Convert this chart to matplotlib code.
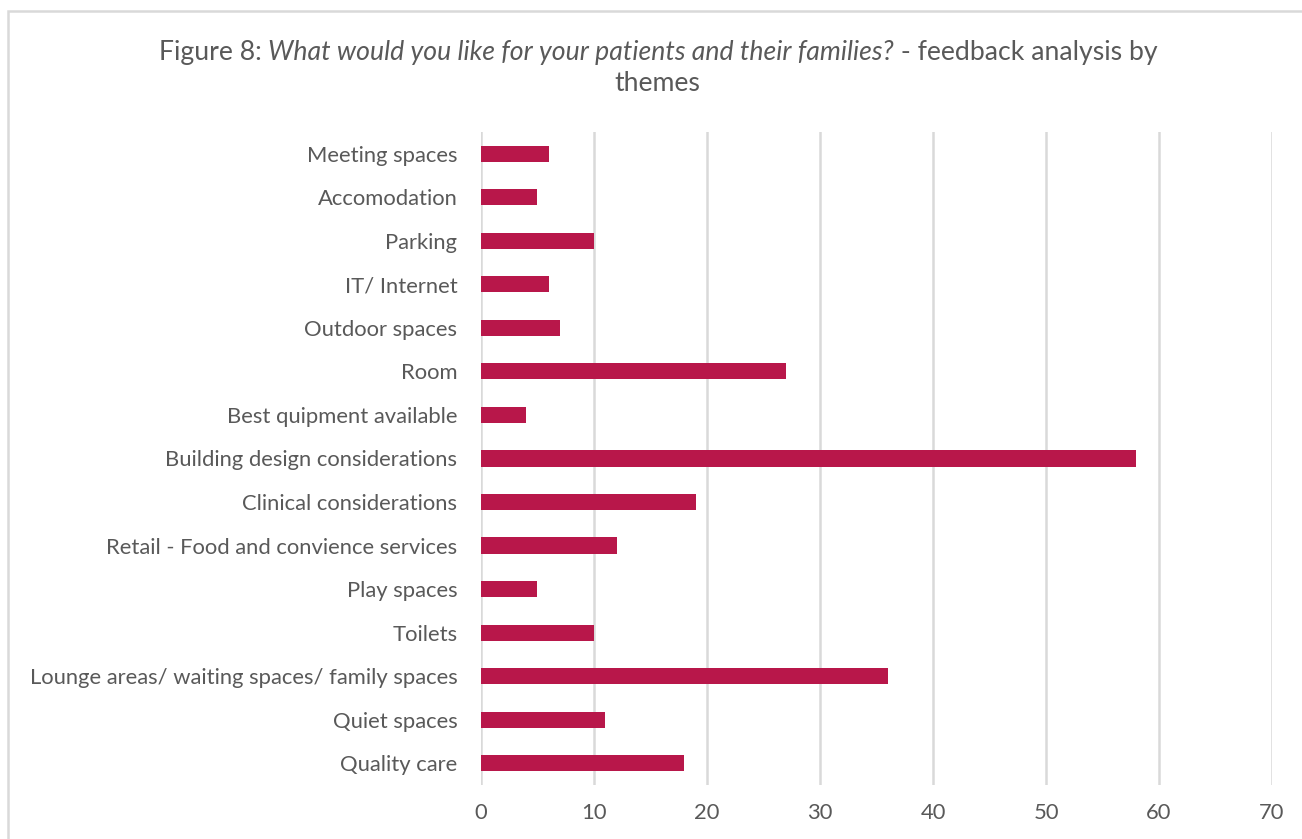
import matplotlib.pyplot as plt
from matplotlib.patches import Rectangle

categories = [
    "Meeting spaces",
    "Accomodation",
    "Parking",
    "IT/ Internet",
    "Outdoor spaces",
    "Room",
    "Best quipment available",
    "Building design considerations",
    "Clinical considerations",
    "Retail - Food and convience services",
    "Play spaces",
    "Toilets",
    "Lounge areas/ waiting spaces/ family spaces",
    "Quiet spaces",
    "Quality care",
]
counts = [6, 5, 10, 6, 7, 27, 4, 58, 19, 12, 5, 10, 36, 11, 18]
xticks = [0, 10, 20, 30, 40, 50, 60, 70]

bar_color = "#B8174A"
text_color = "#595959"
grid_color = "#D9D9D9"

plt.rcParams["font.family"] = ["Lato", "DejaVu Sans"]

fig = plt.figure(figsize=(13.02, 8.39), dpi=100)
ax = fig.add_axes([0.3694, 0.0644, 0.6076, 0.7783])

ypos = list(range(len(categories)))
ax.barh(ypos, counts, height=0.37, color=bar_color, zorder=3)

ax.set_ylim(len(categories) - 0.5, -0.5)
ax.set_xlim(0, 70)
ax.set_xticks(xticks)
ax.set_yticks(ypos)
ax.set_yticklabels(categories)
ax.tick_params(axis="both", length=0, labelsize=15.8, colors=text_color)
ax.tick_params(axis="x", pad=13)
ax.tick_params(axis="y", pad=17)
ax.grid(axis="x", color=grid_color, linewidth=1.8, zorder=0)
for s in ax.spines.values():
    s.set_visible(False)

title_size = 19.2
y1, y2 = 0.938, 0.9
head = fig.text(0.5, y1, "Figure 8: ", ha="left", va="center",
                fontsize=title_size, color=text_color)
italic = fig.text(0.5, y1, "What would you like for your patients and their families?",
                  ha="left", va="center", fontsize=title_size, color=text_color,
                  style="italic")
tail = fig.text(0.5, y1, " - feedback analysis by", ha="left", va="center",
                fontsize=title_size, color=text_color)
fig.text(0.505, y2, "themes", ha="center", va="center",
         fontsize=title_size, color=text_color)

# lay the three pieces of the first line end to end, centred on x=658px
fig.canvas.draw()
renderer = fig.canvas.get_renderer()
w_head = head.get_window_extent(renderer).width
w_it = italic.get_window_extent(renderer).width
w_tail = tail.get_window_extent(renderer).width
x0 = 658 - (w_head + w_it + w_tail) / 2
W = fig.bbox.width
head.set_x(x0 / W)
italic.set_x((x0 + w_head) / W)
tail.set_x((x0 + w_head + w_it) / W)

fig.patches.append(Rectangle((8 / 1302, -0.1), 1.2, 1 - 11 / 839 + 0.1,
                             transform=fig.transFigure, fill=False,
                             edgecolor=grid_color, linewidth=1.8))

fig.savefig("out.png", dpi=100)
